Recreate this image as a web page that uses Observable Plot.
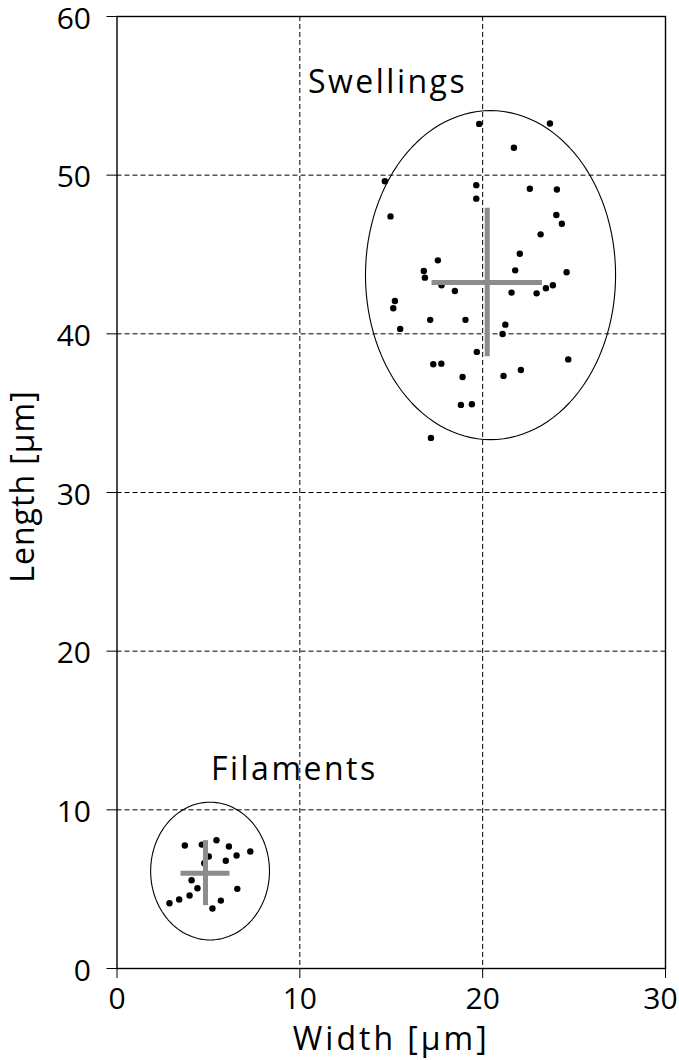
<!DOCTYPE html>
<html>
<head>
<meta charset="utf-8">
<script src="https://cdn.jsdelivr.net/npm/d3@7"></script>
<script src="https://cdn.jsdelivr.net/npm/@observablehq/plot@0.6"></script>
<style>
  html, body { margin: 0; padding: 0; background: #fff; }
  #chart svg { display: block; }
</style>
</head>
<body>
<div id="chart"></div>
<script>
// Swellings: width, length (µm)
const swellW = [19.81,23.68,21.71,14.65,19.65,22.58,24.06,19.65,14.96,24.03,24.33,23.17,22.03,17.55,16.78,21.78,24.59,16.84,17.75,18.48,21.58,22.95,23.46,23.84,15.20,15.11,17.13,19.06,21.24,15.49,21.09,19.68,17.30,17.74,24.68,22.09,18.90,21.14,18.81,19.41,17.17];
const swellL = [53.23,53.26,51.73,49.62,49.37,49.14,49.10,48.52,47.40,47.49,46.94,46.27,45.05,44.63,43.96,44.00,43.88,43.54,43.06,42.70,42.60,42.55,42.87,43.06,42.07,41.61,40.88,40.88,40.58,40.31,39.99,38.86,38.08,38.12,38.39,37.72,37.28,37.35,35.52,35.56,33.44];
// Filaments: width, length (µm)
const filW = [3.71,4.64,5.44,6.12,7.29,6.54,5.02,5.95,4.77,4.08,4.40,6.58,3.97,3.40,2.87,5.68,5.22];
const filL = [7.75,7.81,8.08,7.69,7.37,7.12,7.06,6.79,6.64,5.56,5.06,5.02,4.60,4.35,4.11,4.28,3.78];

// Group summaries: mean ± SD (cross) and enclosing ellipse
const groups = ["Swellings", "Filaments"];
const meanW = [20.25, 4.84];
const meanL = [43.24, 6.01];
const sdW = [3.02, 1.34];
const sdL = [4.68, 2.05];
const ellCX = [20.43, 5.09];
const ellCY = [43.70, 6.14];
const ellRX = [6.84, 3.25];
const ellRY = [10.37, 4.34];
const labelX = [14.8, 9.7];
const labelY = [55.85, 12.55];

const xTicks = [0, 10, 20, 30];
const yTicks = [0, 10, 20, 30, 40, 50, 60];
const xGrid = [10, 20];
const yGrid = [10, 20, 30, 40, 50];

const points = [
  ...swellW.map((w, i) => ({w, l: swellL[i]})),
  ...filW.map((w, i) => ({w, l: filL[i]}))
];
const summary = groups.map((g, i) => ({
  g, mx: meanW[i], my: meanL[i], sx: sdW[i], sy: sdL[i],
  cx: ellCX[i], cy: ellCY[i], rx: ellRX[i], ry: ellRY[i],
  lx: labelX[i], ly: labelY[i]
}));
const ellipsePts = summary.flatMap(s =>
  d3.range(0, 361, 3).map(a => ({
    g: s.g,
    x: s.cx + s.rx * Math.cos(a * Math.PI / 180),
    y: s.cy + s.ry * Math.sin(a * Math.PI / 180)
  }))
);

const font = "Open Sans, Noto Sans, sans-serif";
const chart = Plot.plot({
  width: 679,
  height: 1060,
  marginLeft: 116.5,
  marginRight: 14,
  marginTop: 16,
  marginBottom: 92,
  style: {fontFamily: font, background: "#fff", color: "#000"},
  x: {domain: [0, 30]},
  y: {domain: [0, 60]},
  marks: [
    Plot.gridX(xGrid, {stroke: "#000", strokeOpacity: 1, strokeWidth: 1, strokeDasharray: "5,3"}),
    Plot.gridY(yGrid, {stroke: "#000", strokeOpacity: 1, strokeWidth: 1, strokeDasharray: "5,3"}),
    Plot.frame({stroke: "#000", strokeWidth: 1.4}),
    Plot.axisX({ticks: xTicks, tickSize: 10, tickPadding: 9, fontSize: 30, label: "Width [µm]", labelAnchor: "center", labelArrow: "none", labelOffset: 81}),
    Plot.axisY({ticks: yTicks, tickSize: 10, tickPadding: 16, fontSize: 30, label: "Length [µm]", labelAnchor: "center", labelArrow: "none", labelOffset: 106}),
    Plot.line(ellipsePts, {x: "x", y: "y", z: "g", stroke: "#000", strokeWidth: 1.1}),
    Plot.dot(points, {x: "w", y: "l", r: 3.2, fill: "#000", stroke: "none"}),
    Plot.ruleY(summary, {y: "my", x1: d => d.mx - d.sx, x2: d => d.mx + d.sx, stroke: "#8c8c8c", strokeWidth: 5}),
    Plot.ruleX(summary, {x: "mx", y1: d => d.my - d.sy, y2: d => d.my + d.sy, stroke: "#8c8c8c", strokeWidth: 5}),
    Plot.text(summary, {x: "lx", y: "ly", text: "g", fontSize: 32, fill: "#000", textAnchor: "middle"})
  ]
});
chart.querySelectorAll("g[aria-label='x-axis label'] text").forEach(t => {
  t.setAttribute("font-size", 32);
  t.style.letterSpacing = "3px";
});
chart.querySelectorAll("g[aria-label='y-axis label'] text").forEach(t => {
  t.setAttribute("font-size", 32);
  t.style.letterSpacing = "1px";
  t.setAttribute("dx", 6);
});
chart.querySelectorAll("g[aria-label='y-axis tick label'] text").forEach(t => {
  t.setAttribute("dy", "0.08em");
});
chart.querySelectorAll("g[aria-label='text'] text").forEach(t => {
  t.style.letterSpacing = "2.5px";
});
// keep the last x tick label inside the page, as in the reference
chart.querySelectorAll("g[aria-label='x-axis tick label'] text").forEach(t => {
  if (t.textContent.trim() === "30") t.setAttribute("dx", -5);
});
document.getElementById("chart").appendChild(chart);
</script>
</body>
</html>
